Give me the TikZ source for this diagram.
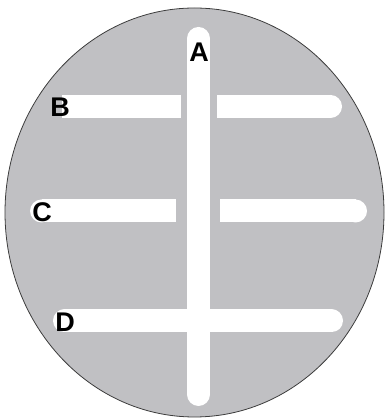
\documentclass[tikz,border=0pt]{standalone}
\usepackage{fontspec}
\setmainfont{Liberation Sans}
\usepackage{xcolor}
\usepackage{tikz}
\definecolor{plategray}{RGB}{192,192,195}
\definecolor{rimgray}{RGB}{60,60,60}

\begin{document}
\begin{tikzpicture}[x=1pt, y=1pt,
  bar/.style={draw=white, line width=23pt},
  capdot/.style={fill=white},
  lbl/.style={font=\bfseries\fontsize{27}{27}\selectfont, inner sep=0pt}
]
  \useasboundingbox (0,0) rectangle (389,419);
  % plate
  \draw[fill=plategray, draw=rimgray, line width=0.8pt] (194.5,206.5) ellipse [x radius=189.5, y radius=204.5];

  % channel ends
  \coordinate (b1) at (62,312.5);   \coordinate (b2) at (181,312.5);
  \coordinate (b3) at (217,312.5);  \coordinate (b4) at (330.5,312.5);
  \coordinate (c1) at (41.5,208);   \coordinate (c2) at (176,208);
  \coordinate (c3) at (220,208);    \coordinate (c4) at (355.5,208);
  \coordinate (d1) at (64.5,98);    \coordinate (d2) at (331.5,98);
  \coordinate (a1) at (198.5,380.5);\coordinate (a2) at (198.5,24.5);

  % horizontal channels
  \draw[bar] (b1) -- (b2);
  \draw[bar] (b3) -- (b4);
  \fill[capdot] (b4) circle (11.5);
  \draw[bar] (c1) -- (c2);
  \fill[capdot] (c1) circle (11.5);
  \draw[bar] (c3) -- (c4);
  \fill[capdot] (c4) circle (11.5);
  \draw[bar, line cap=round] (d1) -- (d2);

  % vertical channel
  \draw[bar, line cap=round] (a1) -- (a2);

  % labels
  \node[lbl] (A) at (199,367) {A};
  \node[lbl] (B) at (60,312) {B};
  \node[lbl] (C) at (42,207) {C};
  \node[lbl] (D) at (65,97) {D};
\end{tikzpicture}
\end{document}
